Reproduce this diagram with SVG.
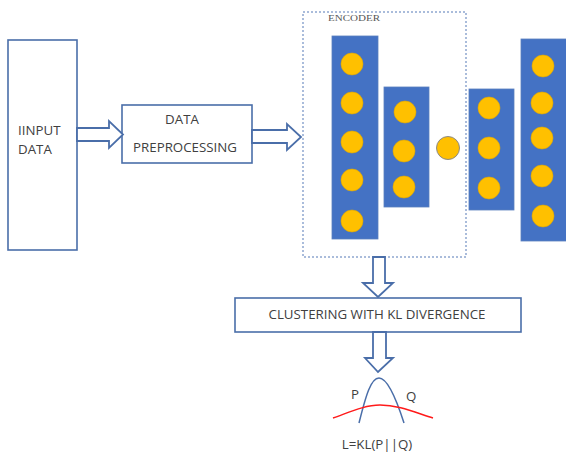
<svg xmlns="http://www.w3.org/2000/svg" width="566" height="453" viewBox="0 0 566 453">
  <style>
    .box { fill: #ffffff; stroke: #4a6ea9; stroke-width: 1.6; }
    .blockarrow { fill: #ffffff; stroke: #4a6ea9; stroke-width: 1.8; stroke-linejoin: miter; }
    .layer { fill: #4472c4; stroke: #5b7fbf; stroke-width: 0.8; }
    .unit { fill: #ffc000; stroke: #e0a800; stroke-width: 0.6; }
    .lbl { font-family: "Open Sans", "Liberation Sans", sans-serif; font-size: 13.3px; fill: #404040; }
    .enc { fill: none; stroke: #8fa6cf; stroke-width: 1.5; stroke-dasharray: 2 2; }
  </style>

  <!-- input block -->
  <g id="input-data">
    <rect class="box" x="8" y="40" width="69" height="210"/>
    <text class="lbl" x="18" y="135">IINPUT</text>
    <text class="lbl" x="18" y="154">DATA</text>
  </g>

  <!-- preprocessing block -->
  <g id="data-preprocessing">
    <rect class="box" x="122" y="105" width="130" height="58"/>
    <text class="lbl" x="182" y="124" text-anchor="middle">DATA</text>
    <text class="lbl" x="185" y="152" text-anchor="middle">PREPROCESSING</text>
  </g>

  <!-- autoencoder -->
  <g id="encoder">
    <rect class="enc" x="303" y="12" width="163" height="245"/>
    <text x="328" y="21" font-family="Liberation Serif, serif" font-size="9px" fill="#555555" textLength="52" lengthAdjust="spacingAndGlyphs">ENCODER</text>
    <rect class="layer" x="332" y="36" width="46" height="203"/>
    <circle class="unit" cx="352" cy="64" r="11"/>
    <circle class="unit" cx="352" cy="103" r="11"/>
    <circle class="unit" cx="352" cy="142" r="11"/>
    <circle class="unit" cx="352" cy="180" r="11"/>
    <circle class="unit" cx="352" cy="221" r="11"/>
    <rect class="layer" x="384" y="87" width="45" height="120"/>
    <circle class="unit" cx="405" cy="112" r="11"/>
    <circle class="unit" cx="404" cy="151" r="11"/>
    <circle class="unit" cx="404" cy="187" r="11"/>
  </g>

  <g id="latent">
    <circle cx="448" cy="148" r="11.5" fill="#ffc000" stroke="#8a8a8a" stroke-width="1"/>
  </g>

  <g id="decoder">
    <rect class="layer" x="469" y="89" width="45" height="121"/>
    <circle class="unit" cx="489" cy="108" r="11"/>
    <circle class="unit" cx="489" cy="148" r="11"/>
    <circle class="unit" cx="489" cy="188" r="11"/>
    <rect class="layer" x="521" y="39" width="48" height="202"/>
    <circle class="unit" cx="543" cy="66" r="11"/>
    <circle class="unit" cx="542" cy="103" r="11"/>
    <circle class="unit" cx="542" cy="138" r="11"/>
    <circle class="unit" cx="542" cy="176" r="11"/>
    <circle class="unit" cx="543" cy="216" r="11"/>
  </g>

  <!-- clustering block -->
  <g id="clustering">
    <rect class="box" x="235" y="298" width="286" height="34"/>
    <text class="lbl" x="377" y="319" text-anchor="middle">CLUSTERING WITH KL DIVERGENCE</text>
  </g>

  <!-- distributions P and Q -->
  <g id="kl-loss">
    <path d="M359,423 C366,395 371,378 379,378 C387,378 395,395 404,423" fill="none" stroke="#4a6ea9" stroke-width="1.5"/>
    <path d="M333,418 C350,412 365,405 380,405 C398,405 414,412 433,418" fill="none" stroke="#ff1a1a" stroke-width="1.5"/>
    <text class="lbl" x="351" y="399" font-size="12.5px">P</text>
    <text class="lbl" x="406" y="401" font-size="12.5px">Q</text>
    <text class="lbl" x="377" y="449" text-anchor="middle" font-size="12.5px">L=KL(P||Q)</text>
  </g>

  <!-- block arrows -->
  <g id="connectors">
    <path class="blockarrow" d="M77,128 H109 V121 L123,134.5 L109,148 V141 H77 Z"/>
    <path class="blockarrow" d="M252,130 H287 V124 L301,137 L287,150 V143 H252 Z"/>
    <path class="blockarrow" d="M373,257 V283 H363 L378,297 L393,283 H385 V257 Z"/>
    <path class="blockarrow" d="M373,332 V358 H365 L378,372 L393,358 H386 V332 Z"/>
  </g>
</svg>
